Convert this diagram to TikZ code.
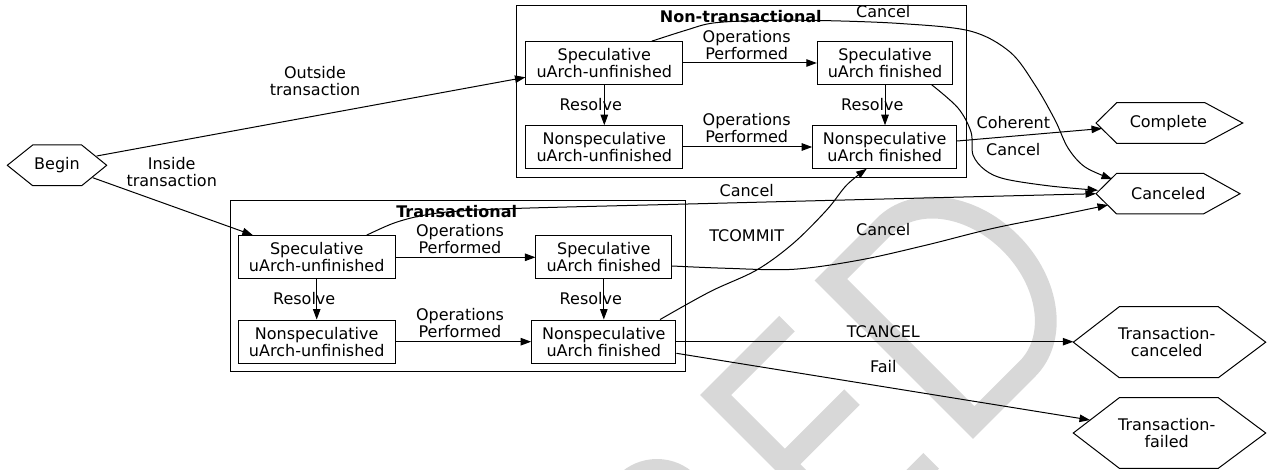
\documentclass[tikz,border=0pt]{standalone}
\usepackage{fontspec}
\setmainfont{DejaVu Sans}
\usetikzlibrary{arrows.meta,calc}
\definecolor{wm}{RGB}{216,216,216}
\begin{document}
\begin{tikzpicture}[x=1pt,y=-1pt,line width=1pt,
  txt/.style={font=\fontsize{16}{16.8}\selectfont,inner sep=0pt,align=center},
  box/.style={txt,draw,rectangle,line width=1pt},
  clus/.style={draw,rectangle,line width=1pt,inner sep=0pt},
  ctitle/.style={font=\fontsize{16}{16.8}\selectfont\bfseries,inner sep=0pt},
  edge/.style={-{Triangle[length=10.5pt,width=7.5pt]},line width=1pt},
  hex/.style={draw,line width=1pt,line join=miter}]
\useasboundingbox (0,0) rectangle (1268,470);
% watermark
\begin{scope}
\clip (0,0) rectangle (1268,470);
\fill[wm] (657,514) circle[radius=55];
\begin{scope}[shift={(700,395)},x={(0.7071pt,0.7071pt)},y={(0.7071pt,-0.7071pt)}]
\fill[wm] (0,0) -- (112,0) -- (112,22) -- (22,22) -- (22,98) -- (106,98) -- (106,120) -- (22,120)
  -- (22,199) -- (117,199) -- (117,221) -- (0,221) -- cycle;
\fill[wm,even odd rule] (162,0) -- (250,0) arc[start angle=-90,end angle=90,x radius=88,y radius=112] -- (162,224) -- cycle
  (186,22) -- (250,22) arc[start angle=-90,end angle=90,x radius=66,y radius=90] -- (186,202) -- cycle;
\end{scope}
\end{scope}
% clusters
\node[clus,minimum width=450,minimum height=171.7] (ntc) at (741.7,91.85) {};
\node[ctitle] (ntct) at (740.8,16.7) {Non-transactional};
\node[clus,minimum width=455,minimum height=171] (tc) at (457.5,286.2) {};
\node[ctitle] (tct) at (456.7,211.7) {Transactional};
% boxes
\node[box,minimum width=156.7,minimum height=42.6] (ntsu) at (604.3,63) {Speculative\\uArch-unfinished};
\node[box,minimum width=135.4,minimum height=42.6] (ntsf) at (885,63) {Speculative\\uArch finished};
\node[box,minimum width=156.7,minimum height=42.6] (ntnu) at (604.3,147) {Nonspeculative\\uArch-unfinished};
\node[box,minimum width=144,minimum height=42.6] (ntnf) at (884.7,147) {Nonspeculative\\uArch finished};
\node[box,minimum width=156.7,minimum height=43.3] (tsu) at (316.7,257.3) {Speculative\\uArch-unfinished};
\node[box,minimum width=135.7,minimum height=43.3] (tsf) at (603.8,257.3) {Speculative\\uArch finished};
\node[box,minimum width=156.7,minimum height=43.3] (tnu) at (316.7,341.7) {Nonspeculative\\uArch-unfinished};
\node[box,minimum width=144.3,minimum height=43.3] (tnf) at (603.8,341.7) {Nonspeculative\\uArch finished};
% hexagons
\node[txt] (begin) at (57,165.3) {Begin};
\draw[hex] (7.3,165.3) -- (32.7,145) -- (81.7,145) -- (106.7,165.3) -- (81.7,185.7) -- (32.7,185.7) -- cycle;
\node[txt] (complete) at (1168.3,123) {Complete};
\draw[hex] (1096,123) -- (1116.7,102.7) -- (1205,102.7) -- (1242.7,123) -- (1205,143.3) -- (1116.7,143.3) -- cycle;
\node[txt] (canceled) at (1168.3,193.7) {Canceled};
\draw[hex] (1096,193.7) -- (1116.7,173.3) -- (1203.3,173.3) -- (1240,193.7) -- (1203.3,214) -- (1116.7,214) -- cycle;
\node[txt] (tcanc) at (1166.7,342.2) {Transaction-\\canceled};
\draw[hex] (1073.3,342.2) -- (1119.3,306.7) -- (1218.3,306.7) -- (1265.7,342.2) -- (1218.3,377.7) -- (1119.3,377.7) -- cycle;
\node[txt] (tfail) at (1166.7,433) {Transaction-\\failed};
\draw[hex] (1073.3,433) -- (1119.3,397.7) -- (1218.3,397.7) -- (1265.7,433) -- (1218.3,468.3) -- (1119.3,468.3) -- cycle;
% entry points on hexagons
\coordinate (complete-in) at (1102,128.5);
\coordinate (canc-a) at (1096,193.7);
\coordinate (canc-b) at (1098,190.3);
\coordinate (canc-c) at (1112,179);
\coordinate (canc-d) at (1108,205);
\coordinate (tcanc-in) at (1073.3,341.7);
\coordinate (tfail-in) at (1090,420);
% edges inside clusters
\draw[edge] (ntsu) -- (ntsf);
\draw[edge] (ntnu) -- (ntnf);
\draw[edge] (ntsu.south) -- (ntnu.north);
\draw[edge] (ntsf.south) -- (ntsf.south |- ntnf.north);
\draw[edge] (tsu) -- (tsf);
\draw[edge] (tnu) -- (tnf);
\draw[edge] (tsu.south) -- (tnu.north);
\draw[edge] (tsf.south) -- (tsf.south |- tnf.north);
\node[txt] (l1) at (746.7,45) {Operations\\Performed};
\node[txt] (l2) at (746.7,128.3) {Operations\\Performed};
\node[txt] (l3) at (460,238.7) {Operations\\Performed};
\node[txt] (l4) at (460,322.8) {Operations\\Performed};
\node[txt] (r1) at (590.8,105) {Resolve};
\node[txt] (r2) at (872.3,105) {Resolve};
\node[txt] (r3) at (304.2,298.3) {Resolve};
\node[txt] (r4) at (590.8,298.3) {Resolve};
% begin edges
\draw[edge] ($(begin)+(39.7,-9.3)$) -- ($(ntsu.west)+(0,14.3)$);
\node[txt] (lout) at (315,81.3) {Outside\\transaction};
\draw[edge] ($(begin)+(35.7,12.4)$) -- ($(tsu.north west)+(15,0)$);
\node[txt] (lin) at (171.7,171.7) {Inside\\transaction};
% cancel edges
\draw[edge] plot[smooth,tension=0.55] coordinates {($(ntsu.north)+(47.4,0)$) (686.7,30) (713.3,23) (760,20.5) (820,20.5) (900,23.5) (970,31) (1010,52) (1035,85) (1055,120) (1068,148) (1085,167) (canc-c)};
\node[txt] (lc1) at (883.3,11.7) {Cancel};
\draw[edge] plot[smooth,tension=0.55] coordinates {($(ntsf.south)+(46.7,0)$) (958,108) (971,132) (973,155) (985,170) (1005,179) (1050,186) (canc-b)};
\node[txt] (lc2) at (1013.3,150) {Cancel};
\draw[edge] ($(ntnf.east)+(0,-6)$) -- (complete-in);
\node[txt] (lcoh) at (1013.3,122.7) {Coherent};
\draw[edge] plot[smooth,tension=0.55] coordinates {($(tsu.north)+(50,0)$) (393.3,223.3) (420,216) (453,211.5) (520,208.3) (700,203.7) (900,198.6) (canc-a)};
\node[txt] (lc3) at (746.7,190.7) {Cancel};
\draw[edge] plot[smooth,tension=0.55] coordinates {($(tsf.east)+(0,8.7)$) (726.7,268.3) (793.3,269.3) (860,260) (926.7,245) (993.3,228.3) (1060,215) (canc-d)};
\node[txt] (lc4) at (883.3,229.3) {Cancel};
\draw[edge] plot[smooth,tension=0.55] coordinates {($(tnf.north)+(56.2,0)$) (710,291.7) (756.7,270) (793.3,243.3) (826.7,210) (846.7,185) ($(ntnf.south)+(-18,0)$)};
\node[txt] (lcom) at (746.7,236) {TCOMMIT};
\draw[edge] (tnf) -- (tcanc-in);
\node[txt] (ltc) at (883.3,331.7) {TCANCEL};
\draw[edge] ($(tnf.east)+(0,11.6)$) -- (tfail-in);
\node[txt] (lfail) at (883.3,366.7) {Fail};
\end{tikzpicture}
\end{document}
